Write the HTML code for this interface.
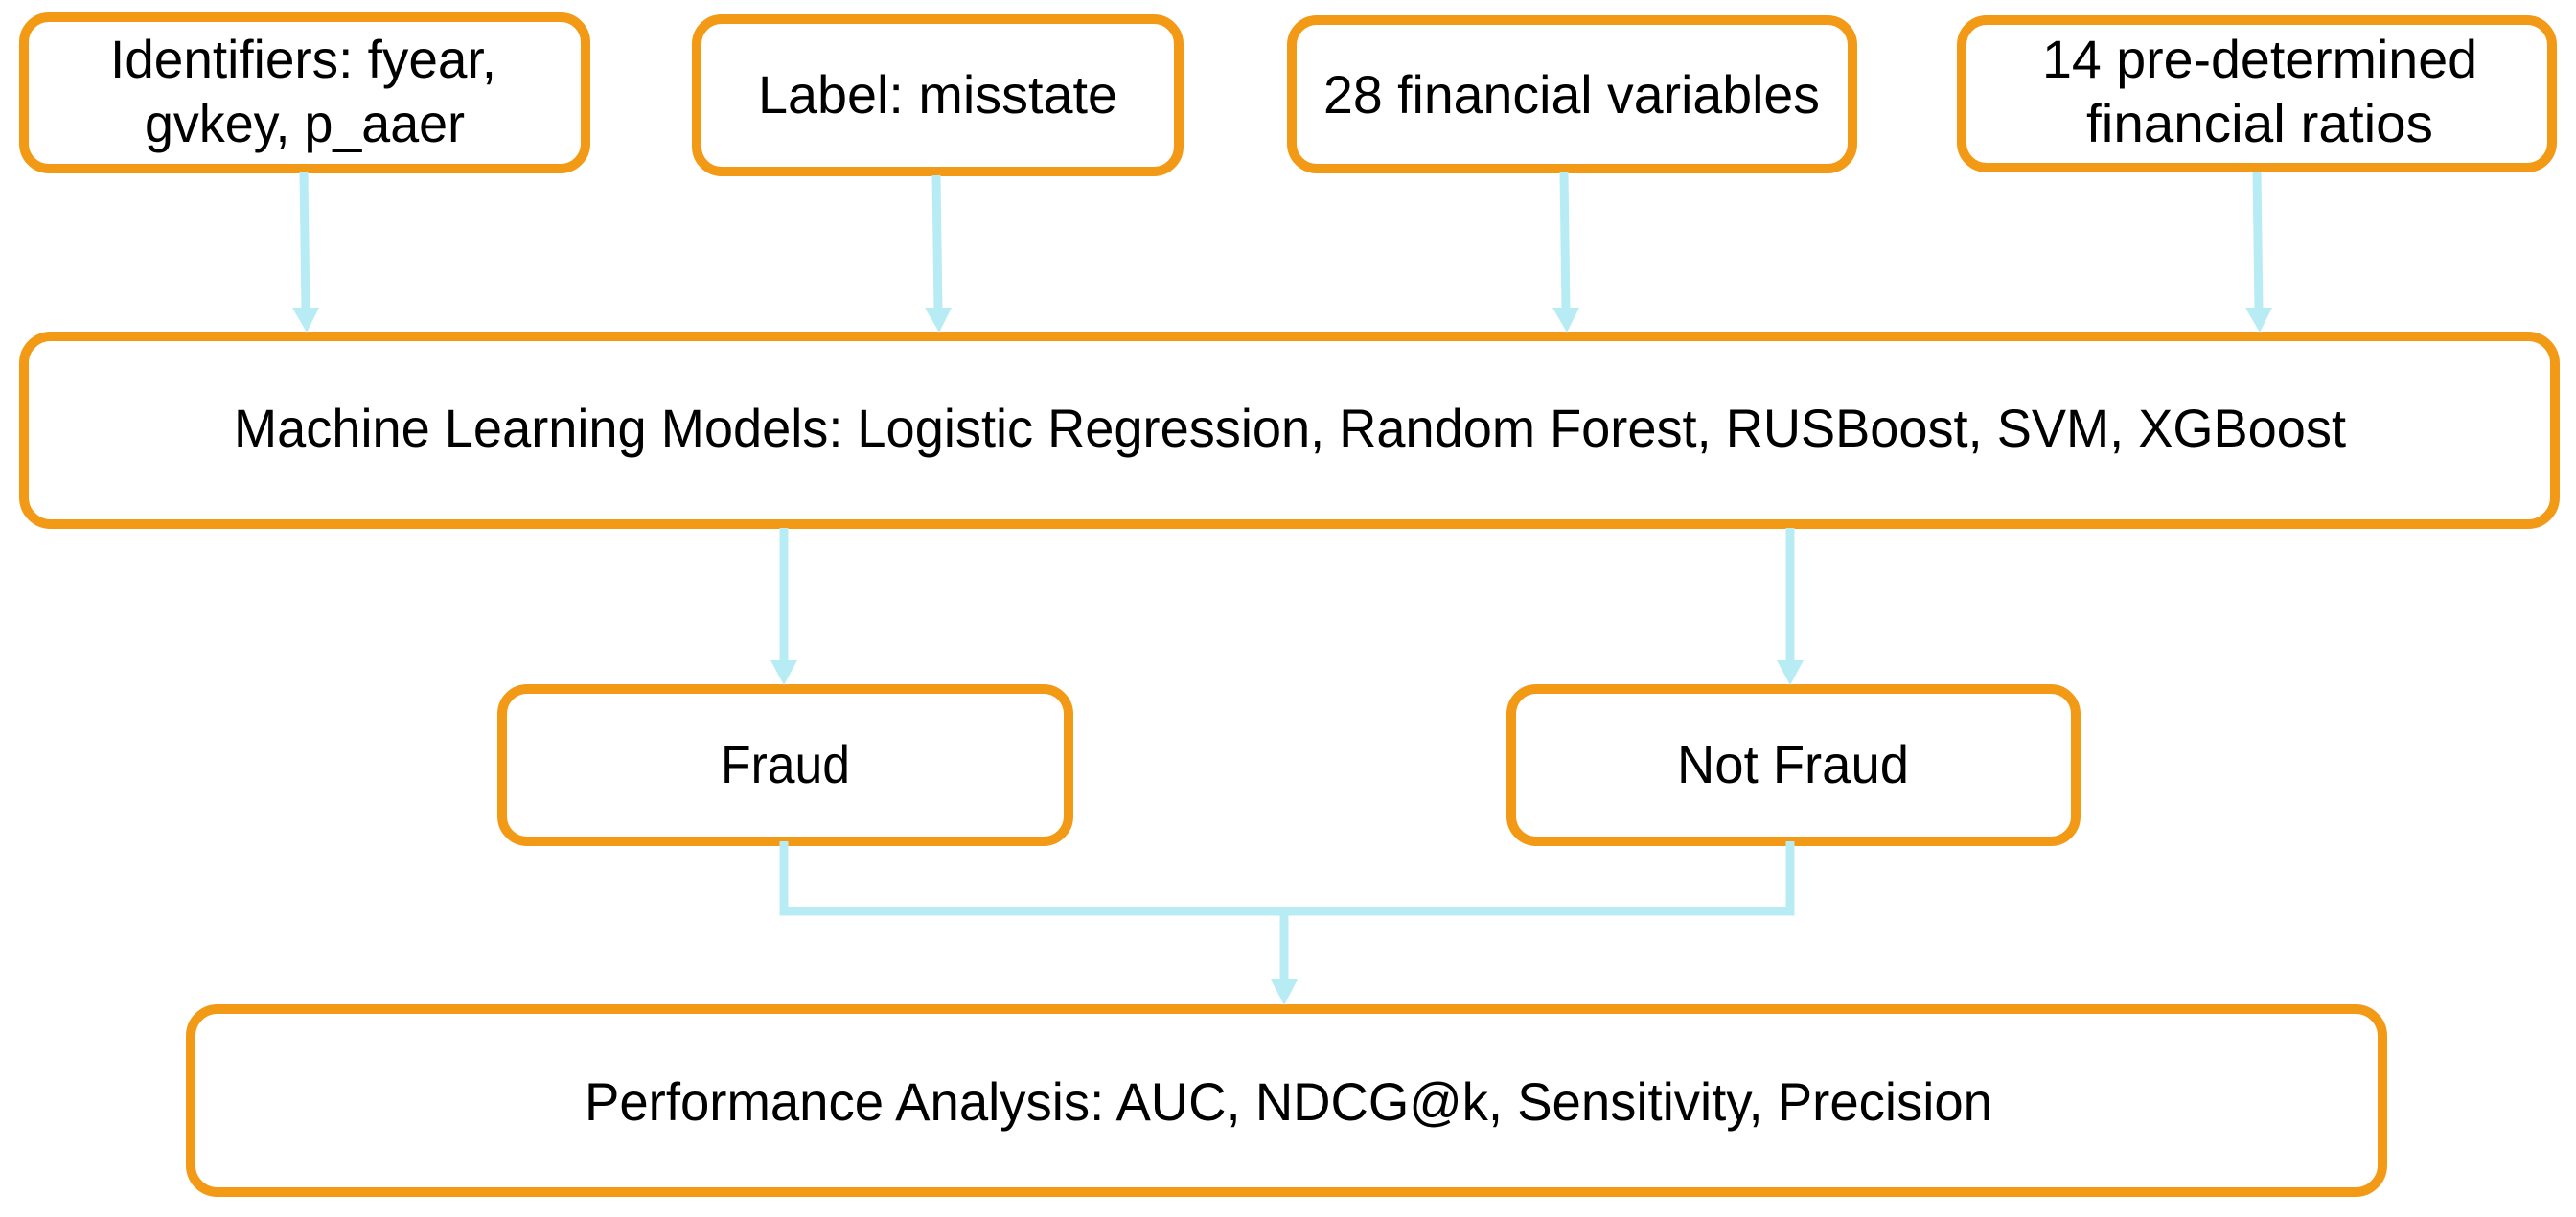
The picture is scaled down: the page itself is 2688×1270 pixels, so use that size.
<!DOCTYPE html>
<html><head><meta charset="utf-8"><style>
html,body{margin:0;padding:0;background:#fff;}
svg{display:block;}
text{font-family:"Liberation Sans",sans-serif;font-size:56px;fill:#000;}
</style></head><body>
<svg width="2688" height="1270" viewBox="0 0 2688 1270" xmlns="http://www.w3.org/2000/svg">
<g fill="none" stroke="#F29A16" stroke-width="10">
<rect x="25" y="18" width="586" height="158" rx="26"/>
<rect x="727" y="20" width="503" height="159" rx="26"/>
<rect x="1348" y="21" width="585" height="155" rx="26"/>
<rect x="2047" y="21" width="616" height="154" rx="26"/>
<rect x="25" y="351" width="2641" height="196" rx="28"/>
<rect x="524" y="719" width="591" height="159" rx="26"/>
<rect x="1577" y="719" width="589" height="159" rx="26"/>
<rect x="199" y="1053" width="2287" height="191" rx="28"/>
</g>
<g stroke="#B8ECF5" stroke-width="9" fill="none">
<line x1="317" y1="180" x2="319" y2="325"/>
<line x1="977" y1="183" x2="979" y2="325"/>
<line x1="1632" y1="180" x2="1634" y2="325"/>
<line x1="2355" y1="179" x2="2357" y2="325"/>
<line x1="818" y1="551" x2="818" y2="692"/>
<line x1="1868" y1="551" x2="1868" y2="692"/>
<polyline points="818,878 818,951 1868,951 1868,878"/>
<line x1="1340" y1="951" x2="1340" y2="1026"/>
</g>
<g fill="#B8ECF5">
<polygon points="305,321 333,321 320,347"/>
<polygon points="965,321 993,321 980,347"/>
<polygon points="1620,321 1648,321 1635,347"/>
<polygon points="2343,321 2371,321 2358,347"/>
<polygon points="804,689 832,689 818,715"/>
<polygon points="1854,689 1882,689 1868,715"/>
<polygon points="1326,1022 1354,1022 1340,1049"/>
</g>
<text x="115" y="81" textLength="403" lengthAdjust="spacingAndGlyphs">Identifiers: fyear,</text>
<text x="151" y="148" textLength="334" lengthAdjust="spacingAndGlyphs">gvkey, p_aaer</text>
<text x="791" y="118" textLength="375" lengthAdjust="spacingAndGlyphs">Label: misstate</text>
<text x="1381" y="118" textLength="518" lengthAdjust="spacingAndGlyphs">28 financial variables</text>
<text x="2131" y="81" textLength="454" lengthAdjust="spacingAndGlyphs">14 pre-determined</text>
<text x="2177" y="148" textLength="362" lengthAdjust="spacingAndGlyphs">financial ratios</text>
<text x="244" y="466" textLength="2204" lengthAdjust="spacingAndGlyphs">Machine Learning Models: Logistic Regression, Random Forest, RUSBoost, SVM, XGBoost</text>
<text x="752" y="817" textLength="135" lengthAdjust="spacingAndGlyphs">Fraud</text>
<text x="1750" y="817" textLength="242" lengthAdjust="spacingAndGlyphs">Not Fraud</text>
<text x="610" y="1169" textLength="1469" lengthAdjust="spacingAndGlyphs">Performance Analysis: AUC, NDCG@k, Sensitivity, Precision</text>
</svg>
</body></html>
